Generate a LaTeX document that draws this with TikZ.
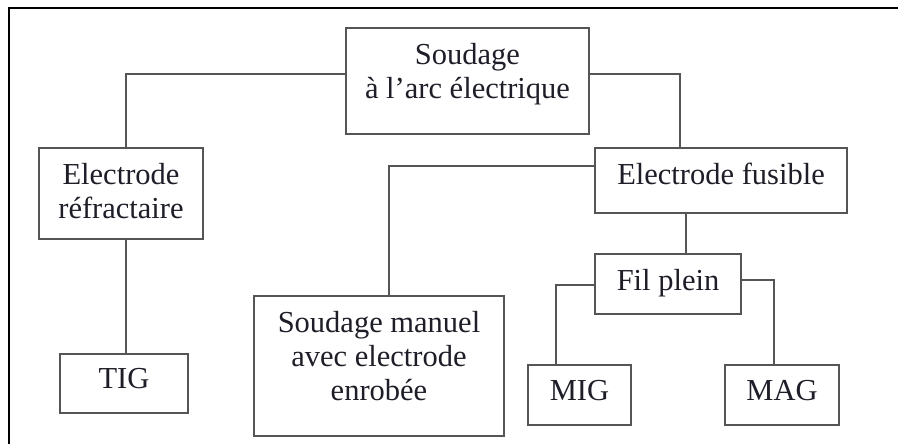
\documentclass[tikz,border=0pt]{standalone}
\usepackage{fontspec}
\setmainfont{Liberation Serif}
\definecolor{boxgray}{HTML}{555555}
\definecolor{txtcol}{HTML}{1E1E28}
\begin{document}
\begin{tikzpicture}[x=0.5pt,y=-0.5pt,
  box/.style={draw=boxgray, line width=0.75pt, inner sep=0pt, fill=white},
  lbl/.style={align=center, text=txtcol, font=\fontsize{15.25pt}{17pt}\selectfont, inner sep=0pt},
  conn/.style={draw=boxgray, line width=0.75pt}]
\useasboundingbox (0,0) rectangle (898,444);
\coordinate (fbl) at (9,444);
\coordinate (ftl) at (9,8);
\coordinate (ftr) at (898,8);
\draw[line width=1pt, black] (fbl) -- (ftl) -- (ftr);

\node[box, minimum width=121.5pt, minimum height=53pt,
  label={[lbl, yshift=3.25pt]center:Soudage\\à l’arc électrique}] (main) at (467.5,81) {};
\node[box, minimum width=82pt, minimum height=45.5pt,
  label={[lbl, yshift=1.25pt]center:Electrode\\réfractaire}] (er) at (121,193.5) {};
\node[box, minimum width=64pt, minimum height=29.5pt,
  label={[lbl, yshift=2.25pt]center:TIG}] (tig) at (124,383.5) {};
\node[box, minimum width=126pt, minimum height=32.5pt,
  label={[lbl, yshift=3.5pt]center:Electrode fusible}] (ef) at (721,180.5) {};
\node[box, minimum width=125pt, minimum height=70pt,
  label={[lbl, yshift=5pt]center:Soudage manuel\\avec electrode\\enrobée}] (sm) at (379,366) {};
\node[box, minimum width=73pt, minimum height=30pt,
  label={[lbl, yshift=0.5pt]center:Fil plein}] (fp) at (668,284) {};
\node[box, minimum width=51.5pt, minimum height=30pt,
  label={[lbl, yshift=2.25pt]center:MIG}] (mig) at (579.5,395) {};
\node[box, minimum width=57pt, minimum height=30pt,
  label={[lbl, yshift=2.25pt]center:MAG}] (mag) at (782,395) {};

\draw[conn] (main.west |- 0,74) -| (er.north -| 126,0);
\draw[conn] (er.south -| 126,0) -- (tig.north -| 126,0);
\draw[conn] (main.east |- 0,74) -| (ef.north -| 680,0);
\draw[conn] (ef.west |- 0,166) -| (sm.north -| 389,0);
\draw[conn] (ef.south -| 686,0) -- (fp.north -| 686,0);
\draw[conn] (fp.west |- 0,285) -| (mig.north -| 556,0);
\draw[conn] (fp.east |- 0,280) -| (mag.north -| 774,0);
\end{tikzpicture}
\end{document}
